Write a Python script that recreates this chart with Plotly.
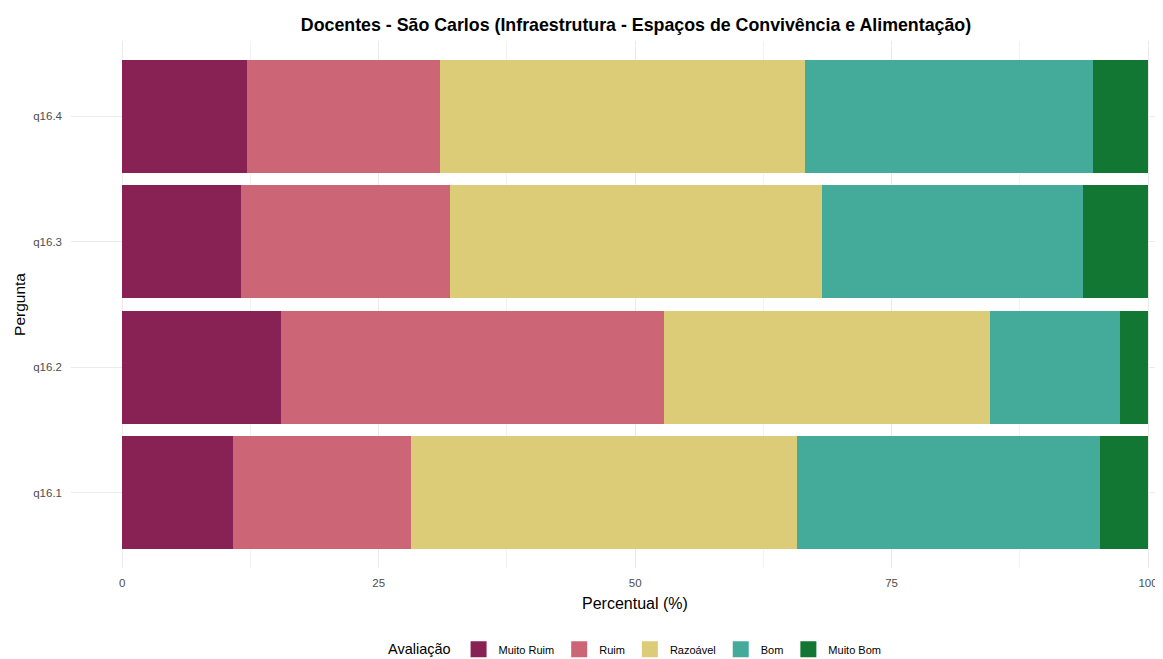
import plotly.graph_objects as go

# Survey answers, share of each rating per question (%)
perguntas = ["q16.1", "q16.2", "q16.3", "q16.4"]
avaliacoes = ["Muito Ruim", "Ruim", "Razoável", "Bom", "Muito Bom"]
muito_ruim = [10.8, 15.5, 11.6, 12.2]
ruim = [17.3, 37.3, 20.3, 18.8]
razoavel = [37.7, 31.8, 36.3, 35.6]
bom = [29.5, 12.7, 25.5, 28.0]
muito_bom = [4.7, 2.7, 6.3, 5.4]

valores = [muito_ruim, ruim, razoavel, bom, muito_bom]
cores = ["#882255", "#CC6677", "#DDCC77", "#44AA99", "#117733"]

fig = go.Figure()
for nome, vals, cor in zip(avaliacoes, valores, cores):
    fig.add_trace(go.Bar(
        x=vals,
        y=perguntas,
        orientation="h",
        name=nome,
        marker=dict(color=cor, line=dict(width=0)),
        width=0.9,
        showlegend=False,
    ))

# legend keys as bigger squares (ggplot style)
for nome, cor in zip(avaliacoes, cores):
    fig.add_trace(go.Scatter(
        x=[None], y=[None],
        mode="markers",
        name=nome,
        marker=dict(symbol="square", size=20, color=cor),
        showlegend=True,
    ))

# page body has an 8px margin, so the figure is sized/offset for it
fig.update_layout(
    barmode="stack",
    width=1155,
    height=651,
    font=dict(family="Arial, Liberation Sans, sans-serif"),
    paper_bgcolor="white",
    plot_bgcolor="white",
    margin=dict(l=63, r=0, t=33, b=91, autoexpand=False),
    title=dict(
        text="<b>Docentes - São Carlos (Infraestrutura - Espaços de Convivência e Alimentação)</b>",
        x=0.5437, xref="container", xanchor="center",
        y=0.975, yref="container", yanchor="middle",
        font=dict(size=17.8, color="black"),
    ),
    legend=dict(
        orientation="h",
        x=0.5437, xref="container", xanchor="center",
        y=0.015, yref="container", yanchor="middle",
        title=dict(text="Avaliação", font=dict(size=14.5, color="black"), side="left"),
        font=dict(size=11, color="black"),
        traceorder="normal",
        itemwidth=30,
    ),
    bargap=0.1,
    # x title centred on the full ggplot panel (which runs past the right edge)
    annotations=[dict(
        text="Percentual (%)",
        x=50, xref="x", xanchor="center",
        y=-0.068, yref="paper", yanchor="middle",
        showarrow=False,
        font=dict(size=16, color="black"),
    )],
)

fig.update_xaxes(
    range=[-5, 101.46],
    tickvals=[0, 25, 50, 75, 100],
    ticktext=["0", "25", "50", "75", "100"],
    tickfont=dict(size=11.5, color="#4D4D4D"),
    showgrid=True,
    gridcolor="#EBEBEB",
    gridwidth=1,
    minor=dict(tickvals=[12.5, 37.5, 62.5, 87.5], showgrid=True, gridcolor="#F2F2F2", gridwidth=0.6),
    zeroline=False,
    showline=False,
    ticks="",
    ticklabelstandoff=6,
    ticklabeloverflow="allow",
    automargin=False,
)

fig.update_yaxes(
    categoryorder="array",
    categoryarray=perguntas,
    range=[-0.6, 3.6],
    tickfont=dict(size=11.5, color="#4D4D4D"),
    showgrid=True,
    gridcolor="#EBEBEB",
    zeroline=False,
    showline=False,
    ticks="",
    ticklabelstandoff=8,
    automargin=False,
    title=dict(text="Pergunta", font=dict(size=15.5, color="black"), standoff=3),
)

fig.write_html("out.html")
